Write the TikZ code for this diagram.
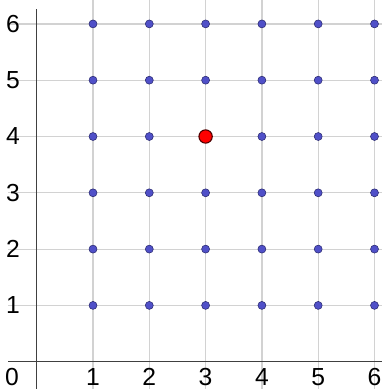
\documentclass[tikz,border=0pt]{standalone}
\usepackage{fontspec}
\setmainfont{Liberation Sans}
\definecolor{gridgray}{RGB}{210,210,210}
\definecolor{axisgray}{RGB}{64,64,64}
\definecolor{dotblue}{RGB}{80,80,200}
\definecolor{dotedge}{RGB}{40,40,110}
\tikzset{every picture/.style={line width=0.75pt}}
\tikzset{
  gridline/.style={draw=gridgray, line width=0.9},
  axisline/.style={draw=axisgray, line width=1.1},
  latdot/.style={circle, fill=dotblue, draw=dotedge, line width=0.4, inner sep=0pt, minimum size=6},
  markdot/.style={circle, fill=red, draw=black!70!red, line width=0.8, inner sep=0pt, minimum size=10},
  ticklabel/.style={inner sep=0.75pt, font=\fontsize{18.5}{19}\selectfont}
}

\begin{document}
\begin{tikzpicture}[x=0.75pt,y=0.75pt,yscale=-1,xscale=1]
\useasboundingbox (0,0) rectangle (382,389);

%Grid lines
\foreach \k in {1,...,6} {
  \draw [gridline] (36.7+56.3*\k,0) -- (36.7+56.3*\k,389) ;
  \draw [gridline] (8,361.7-56.3*\k) -- (382,361.7-56.3*\k) ;
}

%Axes
\draw [axisline] (8,361.7) -- (382,361.7) ;
\draw [axisline] (36.7,9) -- (36.7,389) ;

%Lattice points
\foreach \i in {1,...,6} {
  \foreach \j in {1,...,6} {
    \node [latdot] (p-\i-\j) at (36.7+56.3*\i,361.7-56.3*\j) {};
  }
}
%Marked point (3,4)
\node [markdot] (m) at (p-3-4) {};

% Text Nodes
\node [ticklabel] (x0) at (12,377) {0};
\foreach \k in {1,...,6} {
  \node [ticklabel] (x\k) at (36.7+56.3*\k,377) {\k};
  \node [ticklabel] (y\k) at (13,361.7-56.3*\k) {\k};
}

\end{tikzpicture}
\end{document}
